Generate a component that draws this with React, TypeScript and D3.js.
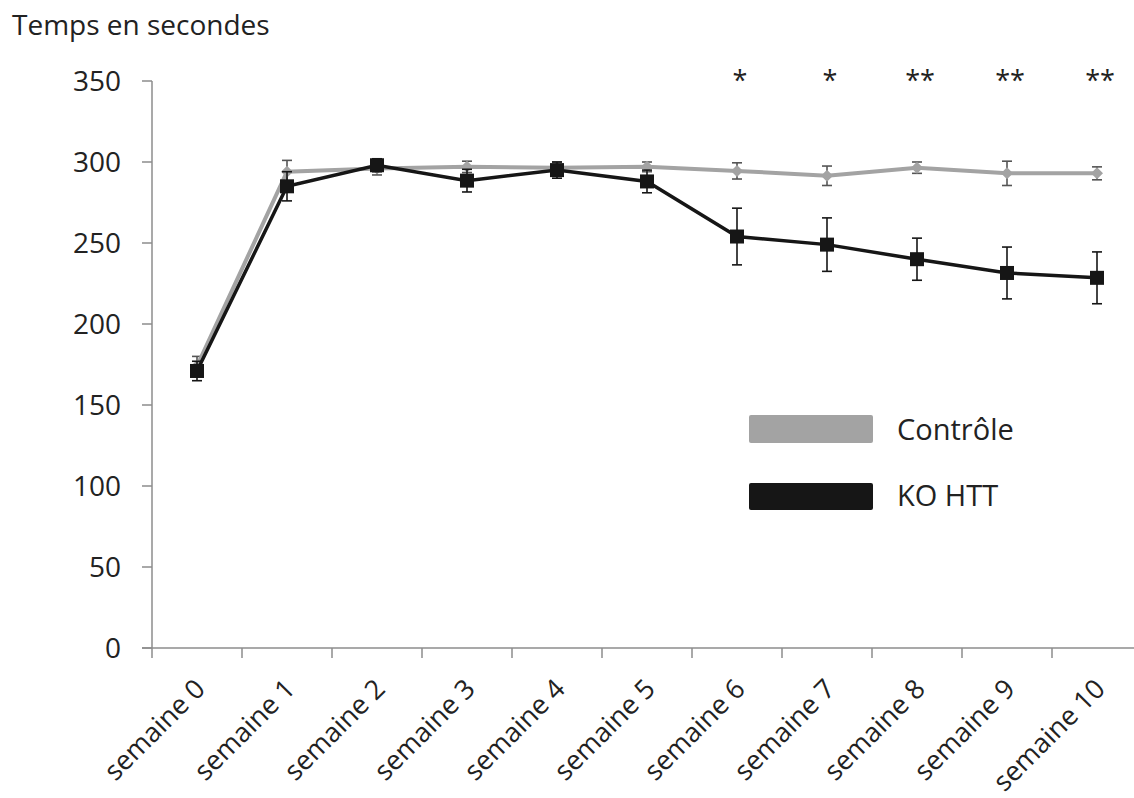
import React from "react";
import * as d3 from "d3";

const categories = ["semaine 0", "semaine 1", "semaine 2", "semaine 3", "semaine 4", "semaine 5", "semaine 6", "semaine 7", "semaine 8", "semaine 9", "semaine 10"];
const controleMean = [174, 294, 296, 297, 296.5, 297, 294.5, 291.5, 296.5, 293, 293];
const controleErr = [6, 7, 4, 3.5, 3.5, 3, 5, 6, 3.5, 7.5, 4];
const koMean = [171, 285, 298, 288.5, 295, 288, 254, 249, 240, 231.5, 228.5];
const koErr = [6, 9, 4, 7, 5, 7, 17.5, 16.5, 13, 16, 16];
const stars = ["", "", "", "", "", "", "*", "*", "**", "**", "**"];
const yTicks = [0, 50, 100, 150, 200, 250, 300, 350];
const seriesNames = ["Contrôle", "KO HTT"];

const W = 1134;
const H = 798;
const FONT = "'Open Sans', 'DejaVu Sans', sans-serif";
const GRAY = "#a3a3a3";
const BLACK = "#161616";
const AXIS = "#8c8c8c";

export default function App() {
  const x = d3.scaleBand<string>().domain(categories).range([152, 1142]).padding(0);
  const y = d3.scaleLinear().domain([0, 350]).range([648, 81]);
  const cx = (c: string) => (x(c) as number) + x.bandwidth() / 2;

  const lineGen = d3
    .line<number>()
    .x((_, i) => cx(categories[i]))
    .y((d) => y(d));

  const errBars = (mean: number[], err: number[], color: string, key: string) =>
    mean.map((m, i) => {
      const X = cx(categories[i]);
      const y1 = y(m + err[i]);
      const y2 = y(m - err[i]);
      return (
        <g key={key + i} stroke={color} strokeWidth={1.6}>
          <line x1={X} x2={X} y1={y1} y2={y2} />
          <line x1={X - 5} x2={X + 5} y1={y1} y2={y1} />
          <line x1={X - 5} x2={X + 5} y1={y2} y2={y2} />
        </g>
      );
    });

  const boundaries = d3.range(categories.length).map((i) => 152 + i * x.step());

  return (
    <svg
      width={W}
      height={H}
      style={{ position: "absolute", left: 0, top: 0, background: "#fff" }}
      fontFamily={FONT}
    >
      <rect x={0} y={0} width={W} height={H} fill="#fff" />
      <text x={12} y={35} fontSize={28} fill="#222">Temps en secondes</text>

      {/* y axis */}
      <line x1={152} x2={152} y1={y(350)} y2={y(0)} stroke={AXIS} strokeWidth={1.5} />
      {yTicks.map((t) => (
        <g key={"yt" + t}>
          <line x1={142} x2={152} y1={y(t)} y2={y(t)} stroke={AXIS} strokeWidth={1.5} />
          <text x={121} y={y(t)} dy="0.36em" textAnchor="end" fontSize={28} fill="#222">
            {t}
          </text>
        </g>
      ))}

      {/* x axis */}
      <line x1={142} x2={1142} y1={y(0)} y2={y(0)} stroke={AXIS} strokeWidth={1.5} />
      {boundaries.map((b, i) => (
        <line key={"xt" + i} x1={b} x2={b} y1={y(0)} y2={y(0) + 10} stroke={AXIS} strokeWidth={1.5} />
      ))}
      {categories.map((c) => (
        <text
          key={"xl" + c}
          transform={`translate(${cx(c) + 3},${684}) rotate(-45)`}
          textAnchor="end"
          dy="0.35em"
          fontSize={27}
          fill="#222"
        >
          {c}
        </text>
      ))}

      {/* Contrôle series */}
      {errBars(controleMean, controleErr, "#555", "ce")}
      <path d={lineGen(controleMean) || ""} fill="none" stroke={GRAY} strokeWidth={4} />
      {controleMean.map((m, i) => {
        const X = cx(categories[i]);
        const Y = y(m);
        return (
          <path
            key={"cd" + i}
            d={`M${X},${Y - 6}L${X + 6},${Y}L${X},${Y + 6}L${X - 6},${Y}Z`}
            fill={GRAY}
          />
        );
      })}

      {/* KO HTT series */}
      {errBars(koMean, koErr, BLACK, "ke")}
      <path d={lineGen(koMean) || ""} fill="none" stroke={BLACK} strokeWidth={3.5} />
      {koMean.map((m, i) => {
        const X = cx(categories[i]);
        const Y = y(m);
        return <rect key={"ks" + i} x={X - 7} y={Y - 7} width={14} height={14} fill={BLACK} />;
      })}

      {/* significance stars */}
      {categories.map((c, i) =>
        stars[i] ? (
          <text key={"st" + i} x={cx(c) + 3} y={90} textAnchor="middle" fontSize={27} fill="#222">
            {stars[i]}
          </text>
        ) : null
      )}

      {/* legend */}
      <rect x={749} y={415} width={124} height={28} fill={GRAY} rx={2} />
      <text x={897} y={430} dy="0.35em" fontSize={29} fill="#222">{seriesNames[0]}</text>
      <rect x={749} y={483} width={124} height={27} fill={BLACK} rx={2} />
      <text x={897} y={496} dy="0.35em" fontSize={29} fill="#222">{seriesNames[1]}</text>
    </svg>
  );
}
